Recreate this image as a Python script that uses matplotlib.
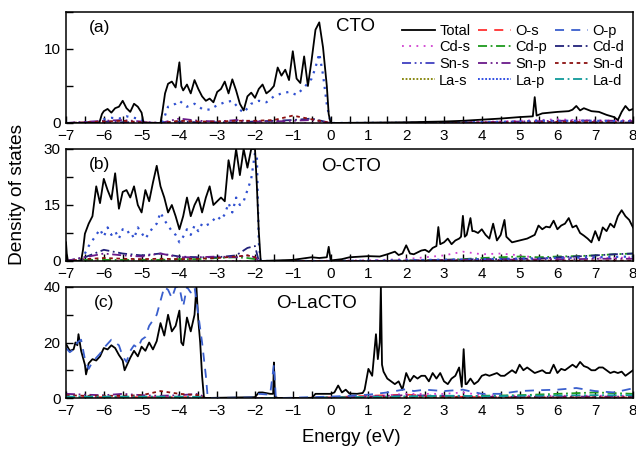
import numpy as np
import matplotlib
matplotlib.use("Agg")
import matplotlib.pyplot as plt
from matplotlib.lines import Line2D
from matplotlib.ticker import MultipleLocator

plt.rcParams['font.family'] = ['Liberation Sans', 'DejaVu Sans']

# ---------------- panel (a) CTO ----------------
e_a = [-7.0, -6.12, -6.05, -6.0, -5.9, -5.8, -5.7, -5.6, -5.5, -5.4, -5.3, -5.2, -5.1, -5.0, -4.95,
       -4.5, -4.45, -4.38, -4.3, -4.2, -4.1, -4.0, -3.95, -3.9, -3.8, -3.7, -3.6, -3.5, -3.4, -3.3,
       -3.2, -3.1, -3.0, -2.9, -2.8, -2.7, -2.6, -2.5, -2.4, -2.3, -2.2, -2.1, -2.0, -1.9, -1.8,
       -1.7, -1.6, -1.5, -1.4, -1.3, -1.2, -1.1, -1.0, -0.9, -0.8, -0.7, -0.6, -0.5, -0.4, -0.3,
       -0.2, -0.1, -0.05, 0.0, 1.0, 2.0, 3.0, 3.5, 4.0, 4.5, 5.0, 5.35, 5.4, 5.45, 5.6, 5.8, 6.0,
       6.3, 6.4, 6.5, 6.6, 6.7, 6.9, 7.1, 7.3, 7.5, 7.6, 7.7, 7.8, 7.9, 8.0]
tot_a = [0, 0, 1.2, 1.6, 1.9, 1.4, 2.0, 2.2, 3.0, 2.0, 1.5, 2.6, 2.2, 1.4, 0,
         0, 1.5, 4.0, 5.3, 5.6, 4.8, 8.2, 5.0, 4.4, 5.2, 4.0, 5.8, 4.6, 3.6, 3.0,
         3.3, 2.8, 4.2, 4.6, 5.6, 4.0, 5.9, 4.4, 2.6, 1.7, 3.6, 4.1, 3.4, 4.6, 5.2,
         4.0, 4.4, 5.0, 7.5, 6.4, 7.2, 5.8, 9.7, 6.0, 5.4, 9.0, 5.0, 8.6, 12.6, 13.6,
         10.2, 5.0, 1.2, 0, 0.05, 0.1, 0.2, 0.3, 0.45, 0.6, 0.8, 0.9, 3.5, 1.0, 1.3, 1.4, 1.5,
         1.6, 1.8, 2.3, 1.7, 2.0, 1.6, 1.5, 1.1, 0.8, 0.4, 1.5, 2.3, 1.7, 1.9]
e_op_a = [-7.0, -6.1, -6.0, -5.8, -5.6, -5.4, -5.2, -5.0, -4.95, -4.45, -4.3, -4.1, -4.0, -3.8,
          -3.6, -3.4, -3.2, -3.0, -2.8, -2.6, -2.4, -2.3, -2.1, -1.9, -1.7, -1.5, -1.3, -1.1,
          -0.9, -0.7, -0.5, -0.4, -0.3, -0.2, -0.1, 0.0, 3.0, 5.0, 5.4, 6.0, 7.0, 8.0]
op_a = [0, 0, 0.5, 0.7, 0.6, 0.9, 0.7, 0.5, 0, 0, 2.2, 2.6, 3.0, 2.2,
        2.6, 1.9, 1.8, 2.4, 2.8, 3.0, 1.8, 1.4, 2.6, 3.0, 2.8, 3.6, 4.0, 4.2,
        3.8, 4.8, 6.0, 7.5, 9.4, 6.5, 2.5, 0, 0.05, 0.2, 0.3, 0.3, 0.3, 0.2]
e_s_a = [-7, -6, -5.5, -5, -4.5, -4, -3.5, -3, -2.5, -2, -1.5, -1, -0.5, 0, 1, 2, 3, 4, 5, 6, 7, 8]
snd_a = [0, 0.2, 0.3, 0.1, 0, 0.3, 0.2, 0.2, 0.3, 0.3, 0.4, 1.0, 0.5, 0, 0, 0, 0, 0.05, 0.1, 0.15, 0.1, 0.1]
snp_a = [0, 0.3, 0.4, 0.2, 0, 0.6, 0.3, 0.2, 0.4, 0.2, 0.2, 0.3, 0.4, 0, 0, 0, 0.05, 0.1, 0.2, 0.3, 0.35, 0.25]
cdd_a = [0, 0.2, 0.1, 0.1, 0, 0.2, 0.1, 0.1, 0.1, 0.2, 0.3, 0.4, 0.6, 0, 0, 0, 0, 0.05, 0.05, 0.1, 0.1, 0.05]
cds_a = [0, 0, 0, 0, 0, 0, 0, 0, 0, 0, 0, 0, 0, 0, 0.02, 0.05, 0.1, 0.15, 0.3, 0.5, 0.3, 0.4]

# ---------------- panel (b) O-CTO ----------------
e_b = [-7.0, -6.98, -6.95, -6.6, -6.55, -6.5, -6.4, -6.3, -6.2, -6.1, -6.0, -5.9, -5.8, -5.7, -5.6,
       -5.5, -5.4, -5.3, -5.2, -5.1, -5.0, -4.9, -4.8, -4.7, -4.6, -4.5, -4.4, -4.3, -4.2, -4.1,
       -4.0, -3.9, -3.8, -3.7, -3.6, -3.5, -3.4, -3.3, -3.2, -3.1, -3.0, -2.9, -2.8, -2.7, -2.6,
       -2.5, -2.4, -2.3, -2.2, -2.1, -2.0, -1.95, -1.9, -1.85, -1.0, -0.5, -0.3, -0.1, -0.05, 0.0,
       0.05, 0.3, 0.5, 1.0, 1.3, 1.5, 1.7, 1.8, 1.9, 2.0, 2.1, 2.2, 2.4, 2.5, 2.6, 2.7, 2.8, 2.85,
       2.9, 3.0, 3.1, 3.2, 3.3, 3.4, 3.45, 3.5, 3.55, 3.6, 3.7, 3.75, 3.8, 3.9, 4.0, 4.1, 4.2,
       4.3, 4.4, 4.5, 4.6, 4.65, 4.7, 4.8, 5.0, 5.2, 5.4, 5.5, 5.6, 5.7, 5.8, 5.9, 6.0, 6.1, 6.2,
       6.3, 6.4, 6.5, 6.6, 6.7, 6.8, 6.9, 7.0, 7.1, 7.2, 7.3, 7.4, 7.5, 7.6, 7.7, 7.8, 7.9, 8.0]
tot_b = [5.0, 2.0, 0, 0, 3.0, 7.3, 10.0, 12.0, 20.0, 15.5, 22.0, 19.0, 16.5, 23.5, 14.0,
         18.5, 19.0, 17.0, 20.0, 15.0, 13.0, 19.0, 16.0, 21.0, 25.5, 20.0, 17.0, 13.0, 15.0, 12.0,
         8.5, 12.0, 17.0, 12.0, 15.0, 17.0, 13.0, 17.0, 20.0, 15.0, 16.0, 17.0, 16.0, 27.0, 22.0,
         30.0, 23.0, 30.0, 25.0, 30.0, 30.0, 20.0, 8.0, 0, 0.3, 1.0, 0.8, 1.0, 3.8, 0.3,
         0.2, 0.5, 1.0, 1.3, 1.2, 1.8, 2.5, 1.6, 2.0, 4.2, 2.0, 1.8, 2.8, 3.0, 2.4, 3.5, 4.0, 9.1,
         4.5, 5.0, 6.0, 4.5, 5.5, 6.0, 6.5, 12.1, 6.5, 7.0, 11.5, 8.0, 8.0, 7.5, 8.5, 7.0, 6.0,
         10.0, 5.5, 7.0, 11.0, 6.5, 6.0, 5.0, 5.5, 6.0, 7.0, 9.5, 8.5, 9.2, 9.0, 10.8, 8.5, 9.5, 10.0,
         11.5, 9.0, 9.5, 7.5, 6.8, 6.0, 5.0, 8.0, 5.5, 9.0, 8.0, 10.0, 9.0, 12.0, 13.6, 12.0, 11.0, 9.0]
e_op_b = [-7.0, -6.6, -6.5, -6.4, -6.3, -6.2, -6.1, -6.0, -5.9, -5.8, -5.7, -5.6, -5.5, -5.4, -5.3,
          -5.2, -5.1, -5.0, -4.9, -4.8, -4.7, -4.6, -4.5, -4.4, -4.3, -4.2, -4.1, -4.0, -3.9, -3.8,
          -3.7, -3.6, -3.5, -3.4, -3.3, -3.2, -3.1, -3.0, -2.9, -2.8, -2.7, -2.6, -2.5, -2.4, -2.3,
          -2.2, -2.1, -2.0, -1.95, -1.9, -1.85, 0.0, 2.0, 4.0, 6.0, 8.0]
op_b = [0, 0, 2.0, 4.0, 5.5, 7.0, 8.5, 6.5, 9.0, 7.0, 8.0, 6.0, 8.5, 7.5, 8.0,
        6.0, 9.0, 7.5, 6.0, 7.5, 9.0, 10.0, 13.0, 11.0, 9.5, 8.0, 7.0, 5.0, 6.5, 8.5,
        7.0, 9.5, 8.0, 10.0, 9.5, 10.0, 11.0, 12.0, 11.0, 12.5, 15.5, 13.0, 17.0, 15.0, 16.0,
        19.0, 22.0, 29.0, 28.0, 5.0, 0, 0, 0.2, 0.5, 0.8, 1.2]
e_s_b = [-7, -6.5, -6, -5.5, -5, -4.5, -4, -3.5, -3, -2.5, -2.2, -2, -1.9, -1, 0, 1, 2, 3, 3.5, 4,
         4.5, 5, 5.5, 6, 6.5, 7, 7.5, 8]
cdd_b = [0, 1.0, 3.0, 2.0, 1.5, 2.0, 1.2, 1.0, 1.0, 1.5, 3.5, 4.0, 0, 0, 0, 0, 0.1, 0.3, 0.4, 0.5,
         0.5, 0.6, 0.6, 1.0, 1.2, 1.5, 1.8, 2.0]
snp_b = [0, 1.0, 2.0, 1.5, 1.2, 2.0, 1.0, 1.0, 1.2, 1.0, 1.5, 1.0, 0, 0, 0, 0, 0.1, 0.2, 0.3, 0.3,
         0.3, 0.4, 0.4, 0.5, 0.5, 0.6, 0.6, 0.6]
cds_b = [0, 0, 0, 0, 0, 0, 0, 0, 0, 0, 0, 0, 0, 0, 0.1, 0.2, 0.5, 1.5, 2.5, 1.8,
         2.0, 1.5, 0.8, 0.8, 1.0, 0.8, 0.8, 1.0]
cdp_b = [0, 0.3, 0.3, 0.3, 0.3, 0.3, 0.5, 0.5, 0.8, 1.0, 0.8, 0.5, 0, 0, 0, 0, 0.1, 0.3, 0.5, 0.8,
         1.0, 1.2, 1.0, 1.2, 1.3, 1.5, 1.8, 2.0]
snd_b = [0, 0.5, 0.8, 0.6, 0.5, 0.6, 0.5, 0.6, 0.8, 1.2, 1.5, 1.0, 0, 0, 0, 0, 0, 0.1, 0.1, 0.1,
         0.1, 0.1, 0.1, 0.1, 0.1, 0.1, 0.1, 0.1]

# ---------------- panel (c) O-LaCTO ----------------
e_c = [-7.0, -6.9, -6.8, -6.75, -6.7, -6.67, -6.6, -6.5, -6.47, -6.4, -6.3, -6.2, -6.1, -6.0, -5.9,
       -5.8, -5.7, -5.6, -5.5, -5.45, -5.4, -5.3, -5.2, -5.1, -5.0, -4.9, -4.8, -4.7, -4.6, -4.5,
       -4.4, -4.3, -4.2, -4.1, -4.0, -3.95, -3.9, -3.8, -3.7, -3.6, -3.55, -3.5, -3.45, -3.4, -3.35,
       -2.0, -1.9, -1.8, -1.6, -1.52, -1.5, -1.47, -1.4, -0.5, -0.4, 0.0,
       0.1, 0.2, 0.3, 0.4, 0.5, 0.7, 0.85, 0.9, 1.0, 1.1, 1.2, 1.25, 1.3, 1.33, 1.36, 1.4, 1.5,
       1.6, 1.7, 1.8, 1.9, 2.0, 2.1, 2.2, 2.3, 2.4, 2.5, 2.6, 2.7, 2.8, 2.9, 3.0, 3.1, 3.2, 3.3,
       3.4, 3.47, 3.52, 3.57, 3.6, 3.7, 3.8, 3.9, 4.0, 4.1, 4.2, 4.3, 4.4, 4.5, 4.6, 4.7, 4.8, 4.9,
       5.0, 5.1, 5.2, 5.3, 5.4, 5.5, 5.6, 5.7, 5.8, 5.9, 6.0, 6.1, 6.2, 6.3, 6.4, 6.5, 6.6, 6.7,
       6.8, 6.9, 7.0, 7.1, 7.2, 7.3, 7.4, 7.5, 7.6, 7.7, 7.8, 7.9, 8.0]
tot_c = [19.5, 17.0, 17.5, 20.0, 19.0, 23.0, 17.0, 12.0, 8.5, 12.5, 14.0, 13.5, 15.0, 18.0, 17.5,
         19.0, 18.0, 15.5, 13.5, 10.0, 11.5, 14.5, 17.0, 15.0, 18.5, 17.0, 20.0, 17.5, 20.5, 27.0,
         22.5, 30.0, 24.0, 26.0, 31.5, 20.0, 19.0, 29.0, 24.0, 30.0, 40.0, 28.0, 20.0, 8.0, 0,
         0.3, 2.0, 2.0, 1.5, 1.5, 12.8, 0.5, 0, 0, 1.5, 1.5,
         2.0, 4.5, 2.0, 3.0, 1.6, 1.5, 1.8, 3.0, 10.5, 8.0, 23.0, 14.0, 20.0, 40.0, 12.0, 9.5, 7.0,
         6.0, 5.0, 6.0, 3.0, 9.0, 6.0, 8.0, 7.0, 8.0, 8.0, 6.0, 9.0, 7.0, 9.0, 6.0, 5.0, 7.0, 8.0,
         11.0, 4.0, 17.6, 5.0, 5.0, 7.0, 5.0, 6.0, 8.0, 8.5, 8.0, 8.5, 9.0, 8.0, 8.0, 9.0, 10.0, 9.0,
         12.0, 10.0, 11.0, 10.0, 9.0, 9.5, 10.0, 9.0, 9.0, 12.0, 9.0, 10.5, 10.0, 11.0, 12.0, 11.0, 13.0, 11.5,
         11.0, 10.0, 10.0, 11.0, 11.0, 10.0, 9.0, 9.5, 9.0, 9.5, 8.0, 9.0, 10.0]
e_op_c = [-7.0, -6.9, -6.8, -6.7, -6.6, -6.5, -6.4, -6.3, -6.2, -6.1, -6.0, -5.9, -5.8, -5.7, -5.6,
          -5.5, -5.4, -5.3, -5.2, -5.1, -5.0, -4.9, -4.8, -4.7, -4.6, -4.5, -4.4, -4.3, -4.2, -4.1,
          -4.0, -3.9, -3.8, -3.7, -3.6, -3.5, -3.4, -3.3, -3.25, -2.0, -1.9, -1.6, -1.5, -1.45, -1.3,
          0.0, 0.5, 1.0, 1.5, 2.0, 2.2, 2.5, 3.0, 3.5, 4.0, 4.5, 5.0, 5.5, 6.0, 6.5, 7.0, 7.5, 8.0]
op_c = [18.0, 16.5, 17.5, 20.0, 21.0, 14.0, 10.5, 13.0, 14.5, 16.0, 18.0, 19.5, 21.0, 20.0, 19.0,
        15.0, 13.0, 17.0, 19.0, 18.0, 21.0, 22.0, 26.0, 28.0, 30.0, 35.0, 40.0, 39.0, 36.0, 40.0,
        40.0, 33.0, 40.0, 38.0, 40.0, 30.0, 20.0, 8.0, 0, 0.2, 1.5, 1.2, 12.0, 0.5, 0,
        0.5, 0.8, 1.2, 2.0, 3.2, 2.5, 3.0, 2.5, 3.0, 1.5, 1.5, 2.5, 2.8, 3.0, 3.6, 2.5, 2.0, 3.5]
e_s_c = [-7, -6.5, -6, -5.5, -5, -4.5, -4, -3.5, -3.3, -2, -1.5, -1, 0, 1, 1.5, 2, 3, 3.5, 4, 5, 6, 7, 8]
snd_c = [1.0, 0.8, 0.8, 0.8, 1.0, 2.5, 1.5, 1.0, 0, 0, 0, 0, 0.1, 0.2, 0.3, 0.3, 0.3, 0.3, 0.2, 0.2, 0.2, 0.2, 0.2]
snp_c = [1.5, 1.2, 1.0, 1.5, 1.0, 0.8, 1.0, 1.5, 0, 0, 0, 0, 0.1, 0.5, 0.8, 1.0, 0.8, 0.6, 0.4, 0.4, 0.5, 0.5, 0.5]
os_c = [0.3, 0.3, 0.3, 0.3, 0.3, 0.3, 0.3, 0.3, 0, 0, 0, 0, 0.2, 0.8, 1.0, 1.2, 0.5, 0.4, 0.3, 0.2, 0.2, 0.2, 0.2]
cdp_c = [0.3, 0.3, 0.3, 0.3, 0.3, 0.3, 0.3, 0.3, 0, 0, 0, 0, 0.1, 0.2, 0.3, 0.4, 0.5, 0.6, 0.8, 1.0, 1.5, 2.0, 1.5]
lad_c = [0.5, 0.5, 0.5, 0.5, 0.5, 0.5, 0.5, 0.4, 0, 0, 0, 0, 0.2, 0.4, 0.5, 0.6, 0.8, 0.8, 0.6, 0.8, 0.9, 1.0, 1.0]
cds_c = [0.2, 0.2, 0.2, 0.2, 0.2, 0.2, 0.2, 0.2, 0, 0, 0, 0, 0.1, 0.5, 1.0, 1.5, 1.5, 2.0, 1.0, 0.8, 0.8, 0.8, 0.8]

labels = ['Total', 'O-s', 'O-p', 'Cd-s', 'Cd-p', 'Cd-d', 'Sn-s', 'Sn-p', 'Sn-d', 'La-s', 'La-p', 'La-d']
styles = {
    'Total': dict(color='black', ls='-', lw=1.3),
    'O-s': dict(color='#ff3030', ls=(0, (5, 4)), lw=1.3),
    'O-p': dict(color='#3a5fcd', ls=(0, (5, 4)), lw=1.3),
    'Cd-s': dict(color='#d040d0', ls=(0, (1, 3)), lw=1.3),
    'Cd-p': dict(color='#1e9a1e', ls=(0, (5, 2, 1, 2)), lw=1.3),
    'Cd-d': dict(color='#22227a', ls=(0, (5, 2, 1, 2)), lw=1.3),
    'Sn-s': dict(color='#4040c0', ls=(0, (5, 2, 1, 2, 1, 2)), lw=1.3),
    'Sn-p': dict(color='#6a1a8a', ls=(0, (5, 2, 1, 2, 1, 2)), lw=1.3),
    'Sn-d': dict(color='#8b1010', ls=(0, (2, 2)), lw=1.3),
    'La-s': dict(color='#808000', ls=(0, (1, 1)), lw=1.3),
    'La-p': dict(color='#2040e0', ls=(0, (1, 1)), lw=1.3),
    'La-d': dict(color='#109a9a', ls=(0, (5, 2, 1, 2)), lw=1.3),
}
dotted_blue = dict(color='#3050d0', ls=(0, (1, 2.5)), lw=1.6)

fig = plt.figure(figsize=(6.36, 4.5), dpi=100)
L, W = 66 / 636, (633 - 66) / 636
ax_a = fig.add_axes([L, 1 - 123 / 450, W, 111 / 450])
ax_b = fig.add_axes([L, 1 - 261 / 450, W, 112 / 450])
ax_c = fig.add_axes([L, 1 - 398 / 450, W, 111 / 450])

# (a)
ax_a.plot(e_s_a, cds_a, **styles['Cd-s'])
ax_a.plot(e_s_a, cdd_a, **styles['Cd-d'])
ax_a.plot(e_s_a, snp_a, **styles['Sn-p'])
ax_a.plot(e_s_a, snd_a, **styles['Sn-d'])
ax_a.plot(e_op_a, op_a, **dotted_blue)
ax_a.plot(e_a, tot_a, **styles['Total'])

# (b)
ax_b.plot(e_s_b, cds_b, **styles['Cd-s'])
ax_b.plot(e_s_b, cdp_b, **styles['Cd-p'])
ax_b.plot(e_s_b, cdd_b, **styles['Cd-d'])
ax_b.plot(e_s_b, snp_b, **styles['Sn-p'])
ax_b.plot(e_s_b, snd_b, **styles['Sn-d'])
ax_b.plot(e_op_b, op_b, **dotted_blue)
ax_b.plot(e_b, tot_b, **styles['Total'])

# (c)
ax_c.plot(e_s_c, os_c, **styles['O-s'])
ax_c.plot(e_s_c, cds_c, **styles['Cd-s'])
ax_c.plot(e_s_c, cdp_c, **styles['Cd-p'])
ax_c.plot(e_s_c, snp_c, **styles['Sn-p'])
ax_c.plot(e_s_c, snd_c, **styles['Sn-d'])
ax_c.plot(e_s_c, lad_c, **styles['La-d'])
ax_c.plot(e_c, tot_c, **styles['Total'])
ax_c.plot(e_op_c, op_c, **styles['O-p'])

for ax, top, major in [(ax_a, 15, 10), (ax_b, 30, 15), (ax_c, 40, 20)]:
    ax.set_xlim(-7, 8)
    ax.set_ylim(0, top)
    ax.xaxis.set_major_locator(MultipleLocator(1))
    ax.xaxis.set_minor_locator(MultipleLocator(0.5))
    ax.yaxis.set_major_locator(MultipleLocator(major))
    ax.yaxis.set_minor_locator(MultipleLocator(major / 2))
    ax.tick_params(which='both', direction='in', length=5, width=1, labelsize=11, pad=4)
    for sp in ax.spines.values():
        sp.set_linewidth(1.1)

ax_a.text(0.04, 0.86, '(a)', transform=ax_a.transAxes, fontsize=12.5, va='center')
ax_a.text(0.477, 0.87, 'CTO', transform=ax_a.transAxes, fontsize=13.5, va='center')
ax_b.text(0.04, 0.86, '(b)', transform=ax_b.transAxes, fontsize=12.5, va='center')
ax_b.text(0.45, 0.84, 'O-CTO', transform=ax_b.transAxes, fontsize=13.5, va='center')
ax_c.text(0.05, 0.86, '(c)', transform=ax_c.transAxes, fontsize=12.5, va='center')
ax_c.text(0.37, 0.85, 'O-LaCTO', transform=ax_c.transAxes, fontsize=13.5, va='center')

# legend, filled row by row like the original
handles = {k: Line2D([], [], **styles[k]) for k in labels}
order = ['Total', 'Cd-s', 'Sn-s', 'La-s', 'O-s', 'Cd-p', 'Sn-p', 'La-p', 'O-p', 'Cd-d', 'Sn-d', 'La-d']
ax_a.legend([handles[k] for k in order], order, ncol=3, loc='upper left',
            bbox_to_anchor=((402 - 66) / 567, 0.895), frameon=False, fontsize=10.5,
            handlelength=2.25, handletextpad=0.3, columnspacing=0.55, labelspacing=0.18,
            borderaxespad=0, borderpad=0)

fig.text(0.027, 0.569, 'Density of states', rotation=90, fontsize=13.8, ha='center', va='center')
fig.text(0.552, 0.028, 'Energy (eV)', fontsize=13.3, ha='center', va='center')

fig.savefig('out.png', dpi=100)
